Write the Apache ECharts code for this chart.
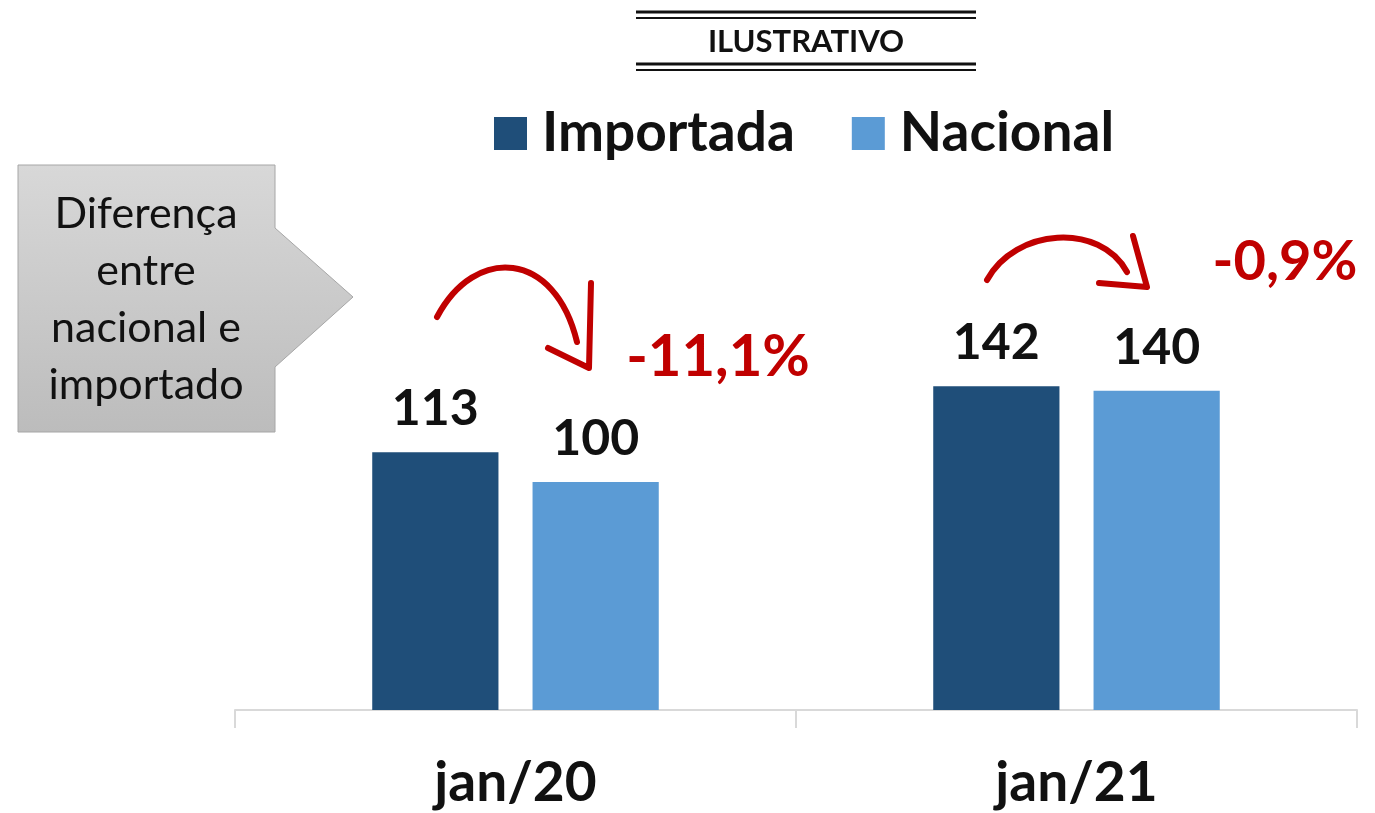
<!DOCTYPE html>
<html>
<head>
<meta charset="utf-8">
<script src="https://cdn.jsdelivr.net/npm/echarts@6/dist/echarts.min.js"></script>
<style>
  html, body { margin: 0; padding: 0; background: #fff; }
  #main { width: 1375px; height: 813px; }
</style>
</head>
<body>
<div id="main"></div>
<script>
// dados
var categorias = ['jan/20', 'jan/21'];
var importada = [113, 142];
var nacional = [100, 140];
var variacao = ['-11,1%', '-0,9%'];

var fonte = 'Lato, "Open Sans", sans-serif';
var vermelho = '#C00000';

var myChart = echarts.init(document.getElementById('main'));

var option = {
  animation: false,
  legend: {
    data: ['Importada', 'Nacional'],
    left: 489,
    top: 101,
    padding: 5,
    itemWidth: 33,
    itemHeight: 33,
    itemGap: 57,
    icon: 'rect',
    textStyle: {
      fontFamily: fonte,
      fontWeight: 'bold',
      fontSize: 55,
      lineHeight: 33,
      color: '#111',
      padding: [0, 0, 0, 10]
    }
  },
  grid: { left: 235, right: 18, top: 140, bottom: 103 },
  xAxis: {
    type: 'category',
    data: categorias,
    axisLine: { lineStyle: { color: '#d9d9d9', width: 2 } },
    axisTick: { show: true, length: 18, lineStyle: { color: '#d9d9d9', width: 2 } },
    axisLabel: {
      margin: 46,
      fontFamily: fonte,
      fontWeight: 'bold',
      fontSize: 55,
      color: '#111'
    }
  },
  yAxis: {
    type: 'value',
    min: 0,
    max: 250,
    show: false,
    splitLine: { show: false }
  },
  series: [
    {
      name: 'Importada',
      type: 'bar',
      data: importada,
      barWidth: '22.5%',
      barGap: '27%',
      itemStyle: { color: '#1F4E79' },
      label: {
        show: true,
        position: 'top',
        distance: 18,
        fontFamily: fonte,
        fontWeight: 'bold',
        fontSize: 50,
        color: '#111'
      }
    },
    {
      name: 'Nacional',
      type: 'bar',
      data: nacional,
      barWidth: '22.5%',
      itemStyle: { color: '#5B9BD5' },
      label: {
        show: true,
        position: 'top',
        distance: 18,
        fontFamily: fonte,
        fontWeight: 'bold',
        fontSize: 50,
        color: '#111'
      }
    }
  ],
  graphic: [
    // ILUSTRATIVO
    { type: 'line', shape: { x1: 636, y1: 12, x2: 976, y2: 12 }, style: { stroke: '#111', lineWidth: 3 } },
    { type: 'line', shape: { x1: 636, y1: 18, x2: 976, y2: 18 }, style: { stroke: '#111', lineWidth: 2 } },
    { type: 'line', shape: { x1: 636, y1: 64, x2: 976, y2: 64 }, style: { stroke: '#111', lineWidth: 3 } },
    { type: 'line', shape: { x1: 636, y1: 70, x2: 976, y2: 70 }, style: { stroke: '#111', lineWidth: 2 } },
    {
      type: 'text', x: 806, y: 42,
      style: {
        text: 'ILUSTRATIVO', fontFamily: fonte, fontWeight: 'bold', fontSize: 31,
        fill: '#111', align: 'center', verticalAlign: 'middle'
      }
    },
    // caixa explicativa
    {
      type: 'polygon',
      shape: {
        points: [[18, 165], [275, 165], [275, 228], [353, 297], [275, 367], [275, 432], [18, 432]]
      },
      style: {
        fill: {
          type: 'linear', x: 0, y: 0, x2: 0, y2: 1,
          colorStops: [{ offset: 0, color: '#d8d8d8' }, { offset: 1, color: '#bcbcbc' }]
        },
        stroke: '#a6a6a6',
        lineWidth: 1
      }
    },
    {
      type: 'text', x: 146, y: 300,
      style: {
        text: 'Diferença\nentre\nnacional e\nimportado',
        fontFamily: fonte, fontSize: 43, lineHeight: 57,
        fill: '#111', align: 'center', verticalAlign: 'middle'
      }
    },
    // setas vermelhas
    {
      type: 'bezierCurve',
      shape: { x1: 437, y1: 317, cpx1: 475, cpy1: 245, cpx2: 555, cpy2: 250, x2: 577, y2: 342 },
      style: { stroke: vermelho, lineWidth: 6, fill: null, lineCap: 'round' }
    },
    {
      type: 'polyline',
      shape: { points: [[591, 283], [589, 368], [548, 348]] },
      style: { stroke: vermelho, lineWidth: 6, lineCap: 'round', lineJoin: 'round' }
    },
    {
      type: 'bezierCurve',
      shape: { x1: 987, y1: 280, cpx1: 1015, cpy1: 228, cpx2: 1100, cpy2: 222, x2: 1127, y2: 272 },
      style: { stroke: vermelho, lineWidth: 6, fill: null, lineCap: 'round' }
    },
    {
      type: 'polyline',
      shape: { points: [[1133, 236], [1147, 287], [1099, 283]] },
      style: { stroke: vermelho, lineWidth: 6, lineCap: 'round', lineJoin: 'round' }
    },
    {
      type: 'text', x: 718, y: 357,
      style: {
        text: variacao[0], fontFamily: fonte, fontWeight: 'bold', fontSize: 58,
        fill: vermelho, align: 'center', verticalAlign: 'middle'
      }
    },
    {
      type: 'text', x: 1285, y: 262,
      style: {
        text: variacao[1], fontFamily: fonte, fontWeight: 'bold', fontSize: 56,
        fill: vermelho, align: 'center', verticalAlign: 'middle'
      }
    }
  ]
};

myChart.setOption(option);
</script>
</body>
</html>
